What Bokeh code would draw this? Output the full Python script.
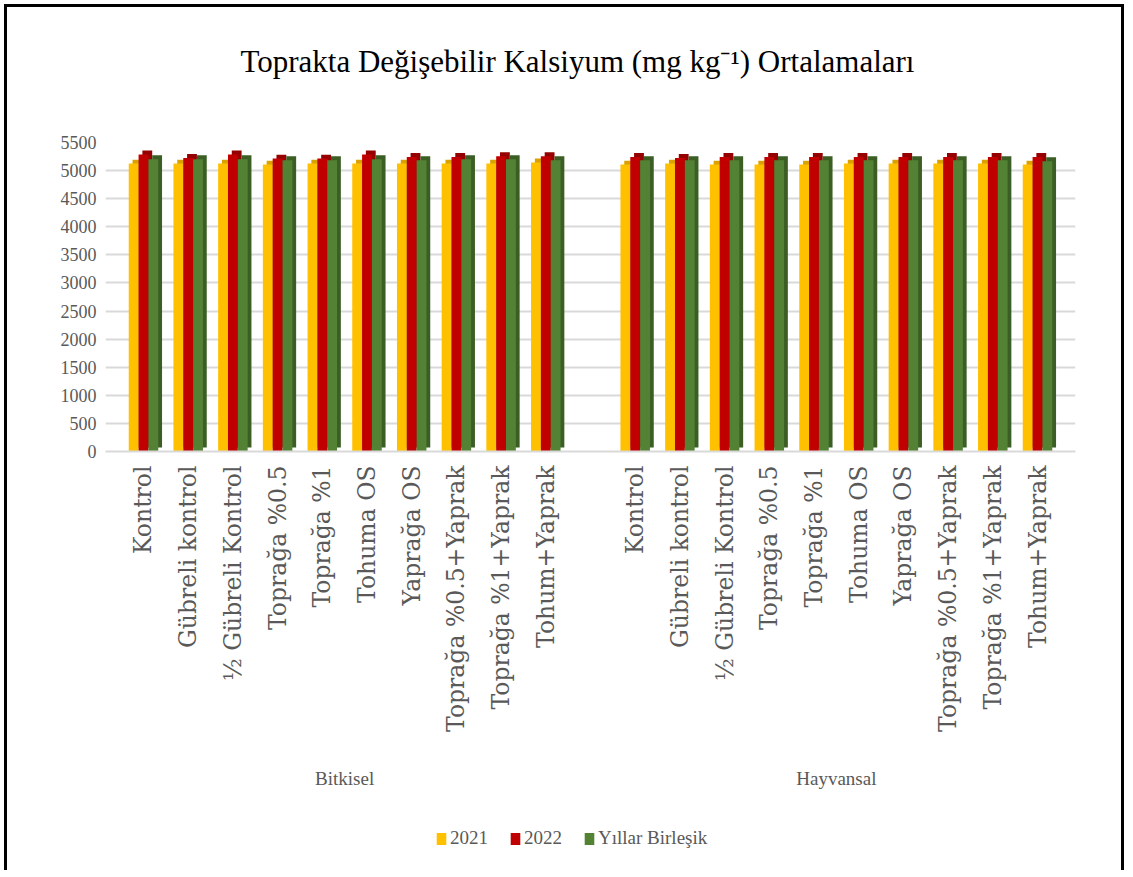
import math
from bokeh.plotting import figure
from bokeh.layouts import column
from bokeh.models import FactorRange, ColumnDataSource, Legend, LegendItem, FixedTicker, Range1d
from bokeh.transform import dodge
from bokeh.embed import file_html
from bokeh.resources import INLINE

groups = ["Bitkisel", "Hayvansal"]
categories = ["Kontrol", "Gübreli kontrol", "½ Gübreli Kontrol", "Toprağa %0.5", "Toprağa %1",
              "Tohuma OS", "Yaprağa OS", "Toprağa %0.5+Yaprak", "Toprağa %1+Yaprak", "Tohum+Yaprak"]

y2021_bitkisel = [5125, 5125, 5125, 5107, 5125, 5125, 5125, 5125, 5125, 5143]
y2022_bitkisel = [5286, 5225, 5286, 5214, 5214, 5286, 5243, 5243, 5255, 5255]
birlesik_bitkisel = [5202, 5202, 5202, 5184, 5184, 5202, 5184, 5202, 5202, 5184]

y2021_hayvansal = [5107, 5125, 5107, 5107, 5107, 5125, 5125, 5125, 5125, 5107]
y2022_hayvansal = [5243, 5225, 5243, 5243, 5243, 5243, 5243, 5243, 5243, 5243]
birlesik_hayvansal = [5184, 5184, 5184, 5184, 5184, 5184, 5184, 5184, 5184, 5166]

series_names = ["2021", "2022", "Yıllar Birleşik"]
y_ticks = [0, 500, 1000, 1500, 2000, 2500, 3000, 3500, 4000, 4500, 5000, 5500]
title_text = "Toprakta Değişebilir Kalsiyum (mg kg⁻¹) Ortalamaları"

# group labels get an empty first line so they sit lower under the rotated labels
factors = [("\n" + g, c) for g in groups for c in categories]
vals = {
    "2021": y2021_bitkisel + y2021_hayvansal,
    "2022": y2022_bitkisel + y2022_hayvansal,
    "Yıllar Birleşik": birlesik_bitkisel + birlesik_hayvansal,
}

# 3D look styling
depth_y = 70.0     # data units
depth_x = 0.085    # category units
bar_w = 0.22
offsets = [-0.22, 0.0, 0.22]
front_colors = ["#FFC000", "#C00000", "#548235"]
side_colors = ["#D9A200", "#950000", "#3B5E25"]

data = {"x": factors}
for i, name in enumerate(series_names):
    data[f"v{i}"] = vals[name]
    data[f"t{i}"] = [v + depth_y for v in vals[name]]
    data[f"b{i}"] = [depth_y] * len(factors)
source = ColumnDataSource(data)

W = 1114

# title strip
tf = figure(width=W, height=115, output_backend="svg", toolbar_location=None,
            title=title_text, min_border_left=98, min_border_right=46,
            min_border_top=0, min_border_bottom=0,
            x_range=Range1d(0, 1), y_range=Range1d(0, 1))
tf.axis.visible = False
tf.grid.visible = False
tf.outline_line_color = None
tf.title.align = "left"
tf.title.offset = 135
tf.title.text_font = "Liberation Serif"
tf.title.text_font_size = "31px"
tf.title.text_font_style = "normal"
tf.title.text_color = "#000000"
tf.title.standoff = 68

x_range = FactorRange(*factors, group_padding=1.0, range_padding=0.35, range_padding_units="absolute")
y_range = Range1d(0, 5500)

p = figure(
    x_range=x_range, y_range=y_range,
    width=W, height=688,
    output_backend="svg", toolbar_location=None,
    min_border_left=98, min_border_right=46, min_border_top=20, min_border_bottom=359,
)

for i, name in enumerate(series_names):
    p.vbar(x=dodge("x", offsets[i] + depth_x, range=p.x_range), bottom=f"b{i}", top=f"t{i}",
           width=bar_w, source=source, fill_color=side_colors[i], line_color=None)
    p.vbar(x=dodge("x", offsets[i], range=p.x_range), bottom=0, top=f"v{i}",
           width=bar_w, source=source, fill_color=front_colors[i], line_color=None)

p.outline_line_color = None
p.xgrid.grid_line_color = None
p.ygrid.grid_line_color = "#D9D9D9"
p.ygrid.grid_line_width = 2
p.yaxis.ticker = FixedTicker(ticks=y_ticks)
p.yaxis.axis_line_color = None
p.yaxis.major_tick_line_color = None
p.yaxis.minor_tick_line_color = None
p.yaxis.major_label_text_font = "Liberation Serif"
p.yaxis.major_label_text_font_size = "18px"
p.yaxis.major_label_text_color = "#595959"
p.yaxis.major_label_standoff = 3

p.xaxis.axis_line_color = "#D9D9D9"
p.xaxis.axis_line_width = 2
p.xaxis.major_tick_line_color = None
p.xaxis.major_label_orientation = math.pi / 2
p.xaxis.major_label_text_font = "DejaVu Serif"
p.xaxis.major_label_text_font_size = "23.5px"
p.xaxis.major_label_text_color = "#595959"
p.xaxis.major_label_standoff = 8
p.xaxis.group_text_font = "Liberation Serif"
p.xaxis.group_text_font_size = "19px"
p.xaxis.group_text_font_style = "normal"
p.xaxis.group_text_color = "#595959"
p.xaxis.group_label_orientation = "horizontal"
p.xaxis.separator_line_color = None

# legend strip below the chart (hidden copies of the series supply the swatches)
lg = figure(width=W, height=60, output_backend="svg", toolbar_location=None,
            x_range=x_range, y_range=y_range, min_border=0)
lg.axis.visible = False
lg.grid.visible = False
lg.outline_line_color = None
items = []
for i, name in enumerate(series_names):
    r = lg.vbar(x=dodge("x", offsets[i], range=x_range), top=f"v{i}", width=bar_w,
                source=source, fill_color=front_colors[i], line_color=None, visible=False)
    items.append(LegendItem(label=name, renderers=[r]))
legend = Legend(items=items, orientation="horizontal", location=(330, 21),
                label_text_font="Liberation Serif", label_text_font_size="19px",
                label_text_color="#595959", glyph_width=12, glyph_height=15,
                spacing=21, label_standoff=3, border_line_color=None,
                background_fill_alpha=0, inactive_fill_alpha=0)
lg.add_layout(legend, "center")

layout = column(tf, p, lg, spacing=0)
layout.margin = (4, 0, 0, 4)
layout.styles = {"border-top": "3px solid #000000", "border-left": "3px solid #000000",
                 "border-right": "3px solid #000000"}
open("out.html", "w").write(file_html(layout, INLINE))
